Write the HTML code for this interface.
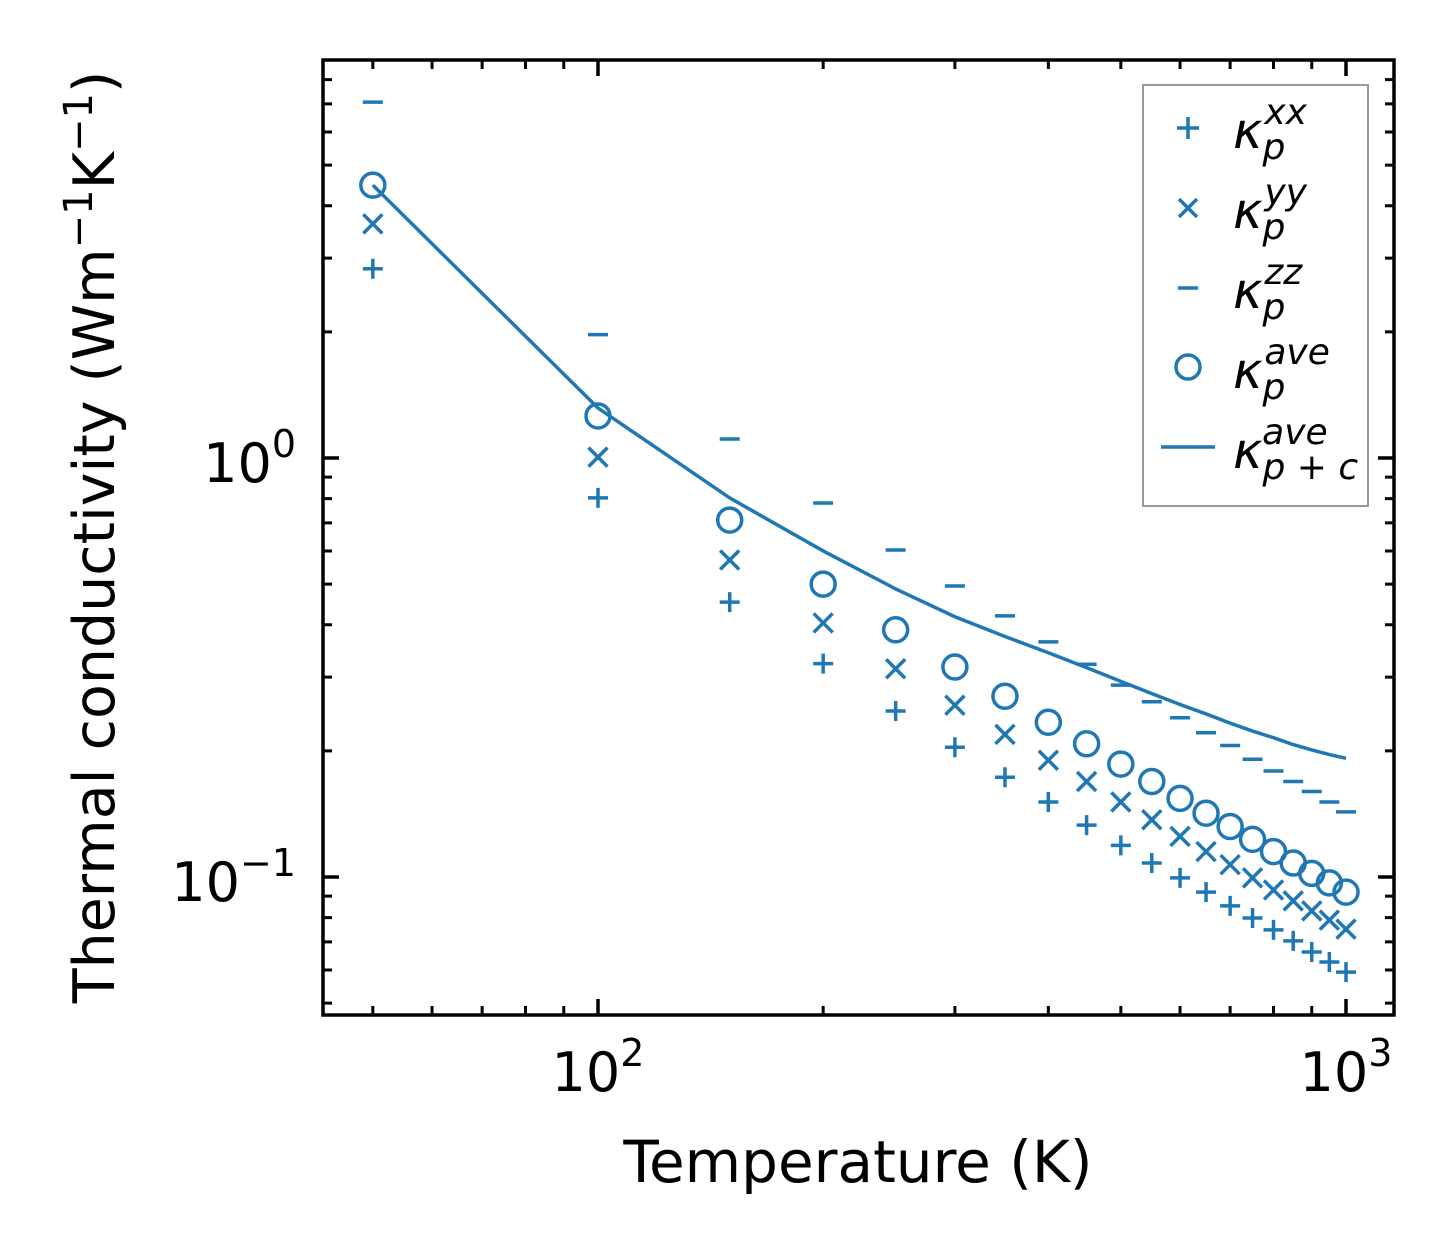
<!DOCTYPE html>
<html><head><meta charset="utf-8"><style>
html,body{margin:0;padding:0;background:#fff;}
svg{display:block;font-family:"DejaVu Sans","Liberation Sans",sans-serif;}
</style></head><body>
<svg id="chart" width="1454" height="1254" viewBox="0 0 1454 1254">
<rect x="0" y="0" width="1454" height="1254" fill="#fff"/>
<g id="ticks"></g>
<g id="marks"></g>
<rect x="323" y="60" width="1071" height="955" fill="none" stroke="#000" stroke-width="3.5"/>
<g font-size="54" text-anchor="middle" fill="#000">
<text x="598" y="1091">10<tspan dy="-25" font-size="38">2</tspan></text>
<text x="1346" y="1091">10<tspan dy="-25" font-size="38">3</tspan></text>
</g>
<g font-size="54" text-anchor="end" fill="#000">
<text x="296" y="482">10<tspan dy="-25" font-size="38">0</tspan></text>
<text x="296" y="901">10<tspan dy="-25" font-size="38">−1</tspan></text>
</g>
<text x="858" y="1182" font-size="58" text-anchor="middle">Temperature (K)</text>
<text transform="translate(114,537) rotate(-90)" font-size="57" text-anchor="middle">Thermal conductivity (Wm<tspan dy="-22" font-size="40">−1</tspan><tspan dy="22">K</tspan><tspan dy="-22" font-size="40">−1</tspan><tspan dy="22">)</tspan></text>
<g>
<rect x="1143" y="85" width="225" height="421" fill="#fff" stroke="#999" stroke-width="2"/>
<g stroke="#1f77b4" stroke-width="3.5" fill="none">
<path d="M1177 128h22M1188 117v22"/>
<path d="M1179 199l18 18M1197 199l-18 18"/>
<path d="M1178 288h20"/>
<circle cx="1188" cy="367" r="12"/>
<path d="M1161 447h54"/>
</g>
<g font-size="50" font-style="italic" fill="#000">
<text x="1233" y="148">κ<tspan dy="11" font-size="36">p</tspan><tspan dx="-21" dy="-35" font-size="36">xx</tspan></text>
<text x="1233" y="228">κ<tspan dy="11" font-size="36">p</tspan><tspan dx="-21" dy="-35" font-size="36">yy</tspan></text>
<text x="1233" y="308">κ<tspan dy="11" font-size="36">p</tspan><tspan dx="-21" dy="-35" font-size="36">zz</tspan></text>
<text x="1233" y="388">κ<tspan dy="11" font-size="36">p</tspan><tspan dx="-21" dy="-35" font-size="36">ave</tspan></text>
<text x="1233" y="468">κ<tspan dy="11" font-size="36">p + c</tspan><tspan dx="-96" dy="-35" font-size="36">ave</tspan></text>
</g>
</g>
</svg>
<script>
const temps=[50,100,150,200,250,300,350,400,450,500,550,600,650,700,750,800,850,900,950,1000];
const kxx=[2.83,0.803,0.453,0.323,0.249,0.204,0.173,0.151,0.133,0.119,0.108,0.0995,0.092,0.0853,0.0798,0.0748,0.0704,0.0662,0.0627,0.0593];
const kyy=[3.62,1.005,0.571,0.404,0.314,0.257,0.219,0.190,0.169,0.151,0.137,0.125,0.115,0.107,0.0995,0.0931,0.0877,0.083,0.0789,0.0751];
const kzz=[7.07,1.97,1.11,0.781,0.603,0.495,0.420,0.364,0.322,0.287,0.262,0.240,0.221,0.206,0.191,0.179,0.169,0.160,0.151,0.143];
const kave=[4.48,1.26,0.711,0.500,0.389,0.317,0.270,0.234,0.208,0.186,0.169,0.154,0.142,0.132,0.123,0.115,0.108,0.102,0.0968,0.092];
const ktot=[4.48,1.316,0.803,0.600,0.487,0.418,0.375,0.343,0.316,0.293,0.274,0.258,0.245,0.233,0.223,0.215,0.207,0.201,0.196,0.192];
const xMinorTicks=[50,60,70,80,90,200,300,400,500,600,700,800,900];
const xMajorTicks=[100,1000];
const yMinorTicks=[0.05,0.06,0.07,0.08,0.09,0.2,0.3,0.4,0.5,0.6,0.7,0.8,0.9,2,3,4,5,6,7,8];
const yMajorTicks=[0.1,1];
const X=v=>598+748*Math.log10(v/100);
const Y=v=>458-419*Math.log10(v);
const NS='http://www.w3.org/2000/svg';
const C='#1f77b4';
function mk(tag,attrs,parent){const e=document.createElementNS(NS,tag);for(const k in attrs)e.setAttribute(k,attrs[k]);parent.appendChild(e);return e;}
const tg=document.getElementById('ticks');
function tickPath(d,w){return mk('path',{d:d,stroke:'#000','stroke-width':w,fill:'none'},tg);}
xMajorTicks.forEach(v=>{const x=X(v);const p=tickPath(`M${x} 1015v-16M${x} 60v16`,3.5);

});
xMinorTicks.forEach(v=>{const x=X(v);const p=tickPath(`M${x} 1015v-9M${x} 60v9`,3);

});
yMajorTicks.forEach(v=>{const y=Y(v);const p=tickPath(`M323 ${y}h16M1394 ${y}h-16`,3.5);

});
yMinorTicks.forEach(v=>{const y=Y(v);const p=tickPath(`M323 ${y}h9M1394 ${y}h-9`,3);

});
const mg=document.getElementById('marks');
const line=mk('polyline',{points:temps.map((t,i)=>X(t)+','+Y(ktot[i])).join(' '),stroke:C,'stroke-width':3.5,fill:'none'},mg);


temps.forEach((t,i)=>{
 const x=X(t);
 let y=Y(kxx[i]);
 const a=mk('path',{d:`M${x-10} ${y}h20M${x} ${y-10}v20`,stroke:C,'stroke-width':3.5,fill:'none'},mg);
 
 
 y=Y(kyy[i]);
 const b=mk('path',{d:`M${x-9.5} ${y-9.5}l19 19M${x+9.5} ${y-9.5}l-19 19`,stroke:C,'stroke-width':3.5,fill:'none'},mg);
 
 
 y=Y(kzz[i]);
 const c=mk('path',{d:`M${x-10} ${y}h20`,stroke:C,'stroke-width':3.5,fill:'none'},mg);
 
 
 y=Y(kave[i]);
 const d=mk('circle',{cx:x,cy:y,r:12,stroke:C,'stroke-width':3.5,fill:'none'},mg);
 
 
});
</script>
</body></html>
